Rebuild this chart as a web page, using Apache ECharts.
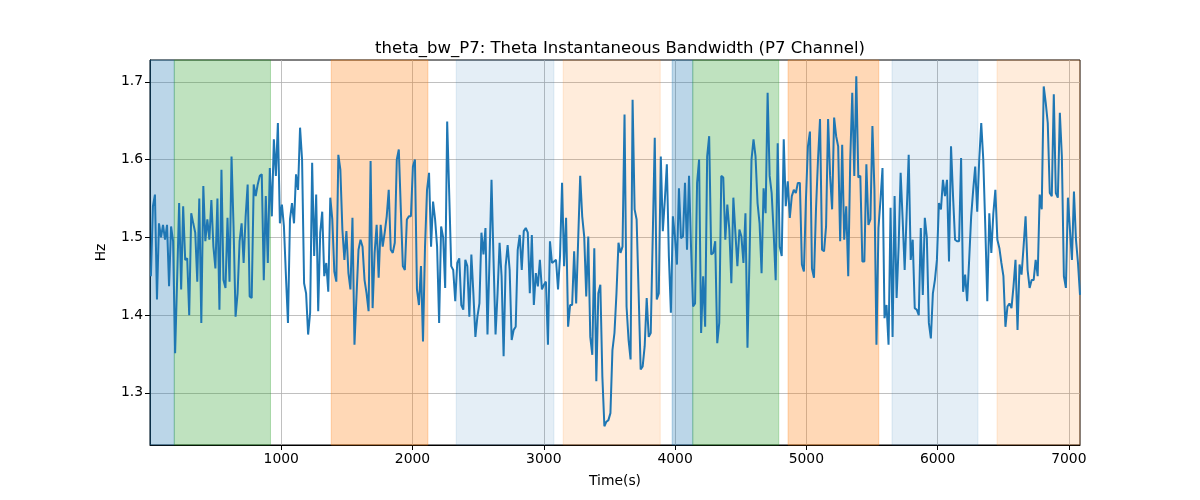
<!DOCTYPE html>
<html>
<head>
<meta charset="utf-8">
<script src="https://cdn.jsdelivr.net/npm/echarts@6/dist/echarts.min.js"></script>
<style>html,body{margin:0;padding:0;background:#fff}#c{width:1200px;height:500px}</style>
</head>
<body>
<div id="c"></div>
<script>
const titleText = 'theta_bw_P7: Theta Instantaneous Bandwidth (P7 Channel)';
const xName = 'Time(s)';
const yName = 'Hz';
const xMin = 0, xMax = 7085;
const yMin = 1.233, yMax = 1.728;
const xTicks = [1000, 2000, 3000, 4000, 5000, 6000, 7000];
const yTicks = [1.3, 1.4, 1.5, 1.6, 1.7];
const tStart = 7, tEnd = 7085;

const values = [
1.45,1.54,1.555,1.42,1.518,1.50,1.516,1.497,1.516,1.437,1.514,1.495,1.351,1.445,1.544,1.433,1.54,1.471,1.473,1.40,1.531,1.518,1.506,1.443,1.55,1.39,1.566,1.495,1.523,1.497,1.548,1.488,1.46,1.55,1.407,
1.587,1.445,1.435,1.525,1.443,1.604,1.514,1.398,1.428,1.495,1.518,1.467,1.527,1.568,1.424,1.422,1.568,1.553,1.568,1.579,1.581,1.445,1.553,1.467,1.589,1.527,1.626,1.579,1.647,1.518,1.542,1.514,1.45,1.39,
1.523,1.544,1.518,1.581,1.561,1.641,1.60,1.441,1.428,1.375,1.403,1.596,1.476,1.555,1.405,1.506,1.533,1.45,1.467,1.43,1.551,1.523,1.456,1.443,1.606,1.587,1.51,1.471,1.508,1.454,1.433,1.525,1.362,1.424,1.484,1.497,1.488,1.445,1.428,1.405,
1.598,1.409,1.48,1.516,1.448,1.516,1.488,1.506,1.527,1.561,1.484,1.48,1.493,1.60,1.613,1.536,1.463,1.458,1.523,1.527,1.527,1.591,1.60,1.433,1.413,1.463,1.366,1.488,1.561,1.583,1.488,1.546,1.523,1.488,1.39,1.514,1.50,1.435,1.649,
1.557,1.463,1.458,1.418,1.467,1.473,1.413,1.407,1.471,1.463,1.398,1.478,1.428,1.372,1.398,1.415,1.506,1.478,1.512,1.375,1.471,1.574,1.471,1.375,1.428,1.493,1.45,1.347,1.463,1.49,1.458,1.368,1.381,1.385,1.484,1.503,1.458,1.508,1.512,
1.506,1.428,1.503,1.413,1.454,1.437,1.471,1.433,1.439,1.443,1.362,1.495,1.467,1.469,1.471,1.433,1.476,1.57,1.463,1.525,1.385,1.413,1.413,1.482,1.415,1.497,1.579,1.527,1.501,1.424,1.501,1.372,1.349,1.486,1.315,1.428,1.439,1.321,1.257,1.263,
1.265,1.274,1.355,1.377,1.428,1.493,1.48,1.488,1.658,1.411,1.368,1.343,1.677,1.536,1.523,1.428,1.33,1.334,1.36,1.422,1.372,1.377,1.501,1.628,1.42,1.428,1.604,1.508,1.548,1.594,1.476,1.403,1.527,1.501,1.465,1.563,1.499,1.501,1.57,1.484,1.579,
1.488,1.411,1.415,1.57,1.60,1.377,1.45,1.385,1.604,1.63,1.478,1.48,1.495,1.364,1.39,1.579,1.577,1.497,1.542,1.51,1.441,1.551,1.506,1.463,1.51,1.501,1.467,1.531,1.358,1.471,1.60,1.626,1.604,1.544,1.518,1.454,1.563,1.531,1.686,
1.579,1.557,1.506,1.445,1.621,1.488,1.476,1.626,1.54,1.572,1.525,1.553,1.561,1.557,1.57,1.57,1.465,1.456,1.548,1.617,1.636,1.46,1.448,1.536,1.60,1.652,1.484,1.482,1.514,1.652,1.579,1.536,1.654,1.63,1.617,1.495,1.619,1.497,1.54,1.45,
1.60,1.686,1.579,1.707,1.577,1.579,1.469,1.469,1.594,1.516,1.523,1.643,1.561,1.362,1.512,1.548,1.589,1.396,1.413,1.362,1.538,1.372,1.553,1.422,1.488,1.583,1.523,1.458,1.531,1.606,1.471,1.497,1.409,1.407,1.40,1.512,1.426,1.525,
1.50,1.39,1.37,1.428,1.445,1.471,1.544,1.536,1.574,1.553,1.574,1.469,1.617,1.553,1.497,1.495,1.495,1.602,1.43,1.452,1.418,1.471,1.527,1.561,1.591,1.533,1.60,1.647,1.60,1.514,1.418,1.531,1.48,1.531,1.561,1.497,1.486,1.467,1.45,
1.385,1.411,1.415,1.409,1.437,1.471,1.381,1.465,1.452,1.488,1.527,1.458,1.435,1.445,1.445,1.471,1.45,1.555,1.536,1.694,1.673,1.647,1.557,1.553,1.684,1.557,1.551,1.66,1.604,1.45,1.435,1.551,1.51,1.471,1.559,1.497,1.467,1.426
];

const spanStarts = [0, 185, 1381, 2333, 3148, 3978, 4135, 4861, 5653, 6453];
const spanEnds   = [185, 918, 2117, 3077, 3887, 4135, 4790, 5552, 6308, 7085];
const spanKinds  = ['blue','green','orange','lightblue','lightorange','blue','green','orange','lightblue','lightorange'];

const spanColors = {
  blue: 'rgba(31,119,180,0.3)',
  green: 'rgba(44,160,44,0.3)',
  orange: 'rgba(255,127,14,0.3)',
  lightblue: 'rgba(31,119,180,0.12)',
  lightorange: 'rgba(255,127,14,0.15)'
};

const step = (tEnd - tStart) / (values.length - 1);
const lineData = values.map((v, i) => [tStart + i * step, v]);
const areas = spanStarts.map((s, i) => [
  { xAxis: s, itemStyle: { color: spanColors[spanKinds[i]], borderColor: spanColors[spanKinds[i]], borderWidth: 1 } },
  { xAxis: spanEnds[i] }
]);

const chart = echarts.init(document.getElementById('c'), null, { renderer: 'canvas' });
const font = 'DejaVu Sans';
chart.setOption({
  animation: false,
  backgroundColor: '#fff',
  title: {
    text: titleText, left: 615, top: 35, textAlign: 'center',
    textStyle: { fontFamily: font, fontSize: 16.5, fontWeight: 'normal', color: '#000' }
  },
  grid: { left: 150, right: 120, top: 60, bottom: 55, show: true, borderColor: '#000', borderWidth: 1, backgroundColor: 'transparent' },
  xAxis: {
    type: 'value', min: xMin, max: xMax, interval: 1000,
    name: xName, nameLocation: 'middle', nameGap: 29,
    nameTextStyle: { fontFamily: font, fontSize: 13.9, color: '#000' },
    axisLine: { show: true, lineStyle: { color: '#000', width: 1 } },
    axisTick: { show: true, length: 5, lineStyle: { color: '#000', width: 1 },
      customValues: xTicks },
    axisLabel: { fontFamily: font, fontSize: 13.9, color: '#000', margin: 7,
      customValues: xTicks, formatter: v => String(Math.round(v)) },
    splitLine: { show: true, lineStyle: { color: '#b0b0b0', width: 0.8 } }
  },
  yAxis: {
    type: 'value', min: yMin, max: yMax,
    name: yName, nameLocation: 'middle', nameGap: 42,
    nameTextStyle: { fontFamily: font, fontSize: 13.9, color: '#000' },
    axisLine: { show: true, lineStyle: { color: '#000', width: 1 } },
    axisTick: { show: true, length: 5, lineStyle: { color: '#000', width: 1 }, customValues: yTicks },
    axisLabel: { fontFamily: font, fontSize: 13.9, color: '#000', margin: 7, customValues: yTicks,
      formatter: v => v.toFixed(1) },
    splitLine: { show: true, lineStyle: { color: '#b0b0b0', width: 0.8 } }
  },
  series: [
    { type: 'line', data: [], z: 1, silent: true, markArea: { silent: true, data: areas } },
    { type: 'line', data: lineData, z: 3, showSymbol: false, symbol: 'none',
      lineStyle: { color: '#1f77b4', width: 2 }, itemStyle: { color: '#1f77b4' } }
  ]
});
</script>
</body>
</html>
